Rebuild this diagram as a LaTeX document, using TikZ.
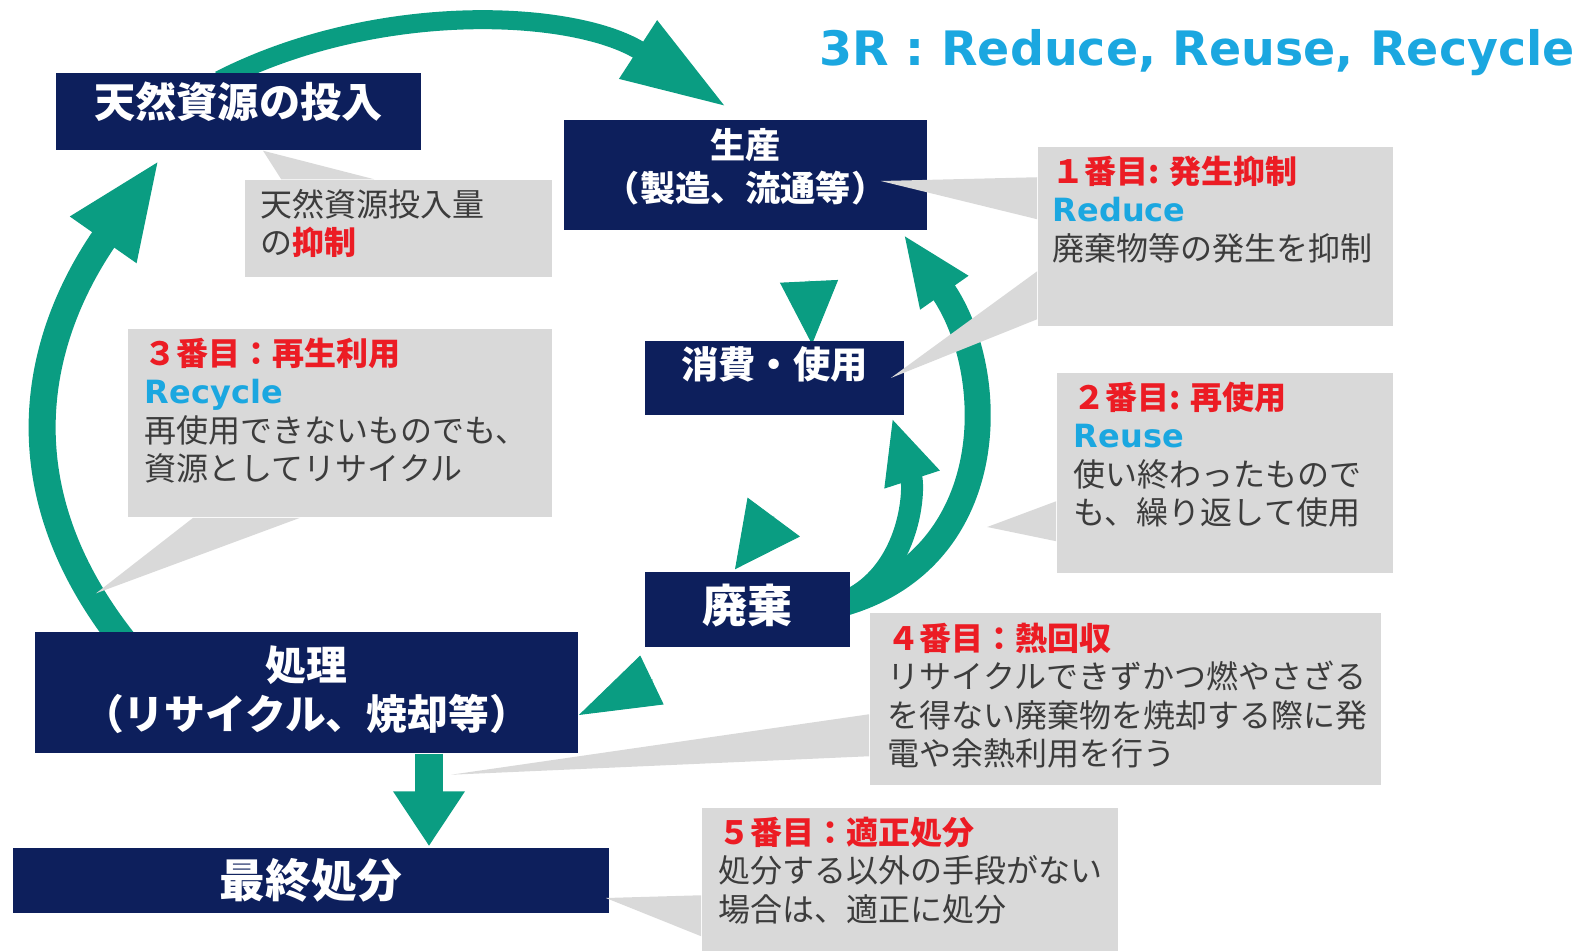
\documentclass[tikz,border=0pt]{standalone}
\usepackage{fontspec}
\setmainfont{Noto Sans CJK JP}
\newfontfamily\latinfont{DejaVu Sans}
\usetikzlibrary{arrows.meta,backgrounds}

\definecolor{navy}{RGB}{13,31,92}
\definecolor{teal3r}{RGB}{10,157,130}
\definecolor{callgray}{RGB}{217,217,217}
\definecolor{redhead}{RGB}{236,28,36}
\definecolor{skyblue}{RGB}{27,167,224}
\definecolor{bodytext}{RGB}{60,60,60}

\newcommand\stephead[1]{{\bfseries\color{redhead}#1}}
\newcommand\rword[1]{{\latinfont\bfseries\color{skyblue}#1}}
\newcommand\lift[1]{\rule[-#1]{0pt}{0pt}}

\tikzset{
    stagebox/.style={fill=navy, text=white, inner sep=0pt, align=center},
    notebox/.style={fill=callgray, inner sep=0pt},
    notetext/.style={anchor=north west, inner sep=0pt, align=left, text=bodytext,
        font=\fontsize{9.1pt}{10.95pt}\selectfont},
    pointer/.style={fill=callgray},
    flow/.style={draw=teal3r, color=teal3r},
}

\begin{document}
\begin{tikzpicture}[x=0.01cm, y=0.01cm]
    \useasboundingbox (0,0) rectangle (1588,951);

    \node[anchor=base west, inner sep=0pt, text=skyblue, font=\latinfont\bfseries\fontsize{13.5pt}{16pt}\selectfont] (title) at (819,885) {3R : Reduce, Reuse, Recycle};

    \node[stagebox, minimum width=3.65cm, minimum height=0.77cm, font=\bfseries\fontsize{11.7pt}{14pt}\selectfont] (tennen) at (238.5,839.5) {天然資源の投入\lift{0.24cm}};
    \node[stagebox, minimum width=3.63cm, minimum height=1.10cm, font=\bfseries\fontsize{10pt}{12.2pt}\selectfont] (seisan) at (745.5,776) {生産\\（製造、流通等）\lift{0.2cm}};
    \node[stagebox, minimum width=2.59cm, minimum height=0.74cm, font=\bfseries\fontsize{10.6pt}{12pt}\selectfont] (shouhi) at (774.5,573) {消費・使用\lift{0.3cm}};
    \node[stagebox, minimum width=2.05cm, minimum height=0.75cm, font=\bfseries\fontsize{12.8pt}{14pt}\selectfont] (haiki) at (747.5,341.5) {廃棄\lift{0.12cm}};
    \node[stagebox, minimum width=5.43cm, minimum height=1.21cm, font=\bfseries\fontsize{11.6pt}{13.9pt}\selectfont] (shori) at (306.5,258.5) {処理\\（リサイクル、焼却等）\lift{0.1cm}};
    \node[stagebox, minimum width=5.96cm, minimum height=0.65cm, font=\bfseries\fontsize{13pt}{14pt}\selectfont] (saishu) at (311,70.5) {最終処分};

    \node[notebox, minimum width=3.07cm, minimum height=0.97cm] (cbA) at (398.5,722.5) {};
    \node[notebox, minimum width=3.55cm, minimum height=1.79cm] (cbB) at (1215.5,714.5) {};
    \node[notebox, minimum width=3.36cm, minimum height=2.00cm] (cbC) at (1225,478) {};
    \node[notebox, minimum width=4.24cm, minimum height=1.88cm] (cbD) at (340,528) {};
    \node[notebox, minimum width=5.11cm, minimum height=1.72cm] (cbE) at (1125.5,252) {};
    \node[notebox, minimum width=4.16cm, minimum height=1.43cm] (cbF) at (910,71.5) {};

    \fill[pointer] ([shift={(37,0)}]cbA.north west) -- ([shift={(24.5,0)}]tennen.south) -- ([shift={(130,0)}]cbA.north west) -- cycle;
    \fill[pointer] ([shift={(0,-31)}]cbB.north west) -- ([shift={(-47,-6)}]seisan.east) -- ([shift={(0,-73)}]cbB.north west) -- cycle;
    \fill[pointer] ([shift={(0,-125)}]cbB.north west) -- ([shift={(-14,0)}]shouhi.east) -- ([shift={(0,-173)}]cbB.north west) -- cycle;
    \fill[pointer] ([shift={(0,-129)}]cbC.north west) -- ([shift={(-69,-54)}]cbC.west) -- ([shift={(0,-169)}]cbC.north west) -- cycle;
    \fill[pointer] ([shift={(66,0)}]cbD.south west) -- ([shift={(62,38)}]shori.north west) -- ([shift={(173,0)}]cbD.south west) -- cycle;
    \fill[pointer] ([shift={(0,-102)}]cbE.north west) -- ([shift={(144.5,-21)}]shori.south) -- ([shift={(0,-144)}]cbE.north west) -- cycle;
    \fill[pointer] ([shift={(0,-88)}]cbF.north west) -- ([shift={(-4,-17.5)}]saishu.east) -- ([shift={(0,-129)}]cbF.north west) -- cycle;

    \node[notetext] (txtA) at ([shift={(16,-9)}]cbA.north west) {天然資源投入量\\の\stephead{抑制}};
    \node[notetext] (txtB) at ([shift={(15,-9)}]cbB.north west) {\stephead{１番目: 発生抑制}\\\rword{Reduce}\\廃棄物等の発生を抑制};
    \node[notetext] (txtC) at ([shift={(17,-9)}]cbC.north west) {\stephead{２番目: 再使用}\\\rword{Reuse}\\使い終わったもので\\も、繰り返して使用};
    \node[notetext] (txtD) at ([shift={(17,-9)}]cbD.north west) {\stephead{３番目：再生利用}\\\rword{Recycle}\\再使用できないものでも、\\資源としてリサイクル};
    \node[notetext] (txtE) at ([shift={(18,-10)}]cbE.north west) {\stephead{４番目：熱回収}\\リサイクルできずかつ燃やさざる\\を得ない廃棄物を焼却する際に発\\電や余熱利用を行う};
    \node[notetext] (txtF) at ([shift={(17,-9)}]cbF.north west) {\stephead{５番目：適正処分}\\処分する以外の手段がない\\場合は、適正に処分};

    \begin{scope}[on background layer]
        \draw[flow, line width=0.27cm, -{Triangle[length=0.99cm,width=0.73cm]}] ([shift={(-179,-15)}]shori.north) to[out=129,in=235,looseness=1.1] ([shift={(-78.5,-8)}]tennen.south);
        \draw[flow, line width=0.19cm, -{Triangle[length=1.06cm,width=0.64cm]}] ([shift={(-19,-8)}]tennen.north) to[out=27,in=147,looseness=0.9] ([shift={(-18.5,12)}]seisan.north);
        \draw[flow, line width=0.26cm, -{Triangle[length=0.72cm,width=0.53cm]}] ([shift={(-12,5)}]haiki.east) to[out=15,in=-55,looseness=1.15] ([shift={(157.5,-3)}]seisan.south);
        \draw[flow, line width=0.22cm, -{Triangle[length=0.65cm,width=0.53cm]}] ([shift={(-12,5)}]haiki.east) to[out=20,in=-72] ([shift={(117.5,-2)}]shouhi.south);
        \draw[flow, line width=0.01cm, -{Triangle[length=0.63cm,width=0.58cm]}] ([shift={(63.5,-50)}]seisan.south) -- ([shift={(37.5,-4)}]shouhi.north);
        \draw[flow, line width=0.01cm, -{Triangle[length=0.65cm,width=0.65cm]}] ([shift={(-0.5,-101)}]shouhi.south) -- ([shift={(-12.5,2)}]haiki.north);
        \draw[flow, line width=0.01cm, -{Triangle[length=0.81cm,width=0.54cm]}] ([shift={(-95,-32)}]haiki.south) -- ([shift={(0,-22.5)}]shori.east);
        \draw[flow, line width=0.28cm, -{Triangle[length=0.55cm,width=0.68cm]}] ([shift={(122.5,0)}]shori.south) -- ([shift={(118,1)}]saishu.north);
    \end{scope}
\end{tikzpicture}
\end{document}
